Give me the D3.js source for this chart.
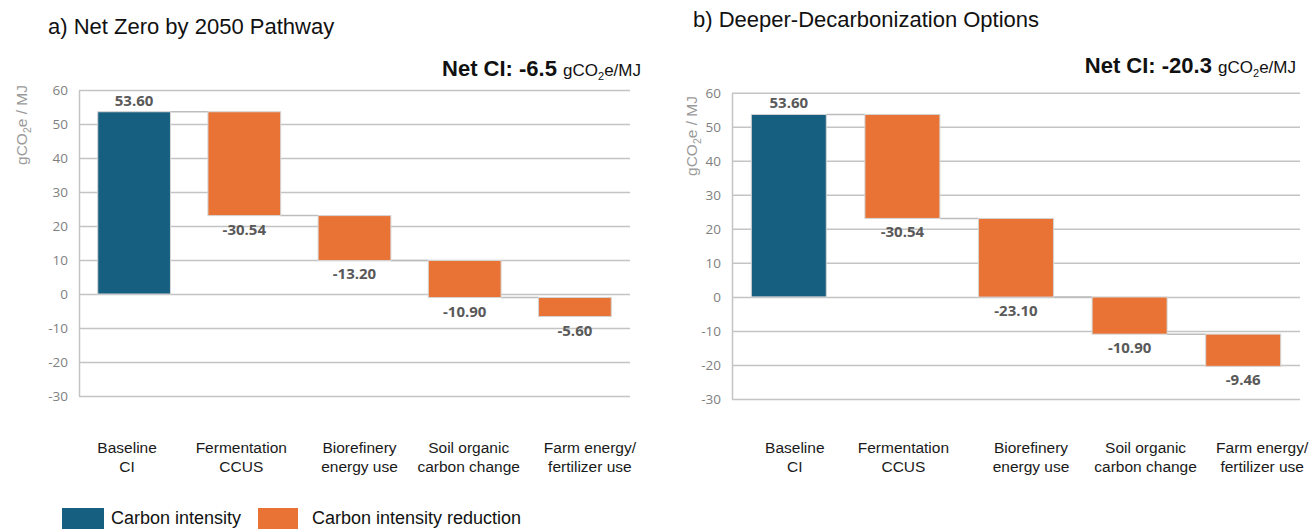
<!DOCTYPE html>
<html>
<head>
<meta charset="utf-8">
<script src="https://cdn.jsdelivr.net/npm/d3@7"></script>
<style>
  body { margin: 0; background: #fff; }
  svg { display: block; }
  .tick text { font-family: 'Open Sans', sans-serif; font-size: 13.5px; fill: #7f7f7f; }
</style>
</head>
<body>
<script>
// chart data
const categories = [
  ['Baseline', 'CI'],
  ['Fermentation', 'CCUS'],
  ['Biorefinery', 'energy use'],
  ['Soil organic', 'carbon change'],
  ['Farm energy/', 'fertilizer use']
];
const valuesA = [53.60, -30.54, -13.20, -10.90, -5.60];
const valuesB = [53.60, -30.54, -23.10, -10.90, -9.46];
const yTicks = [-30, -20, -10, 0, 10, 20, 30, 40, 50, 60];
const titles = ['a) Net Zero by 2050 Pathway', 'b) Deeper-Decarbonization Options'];
const netCI = ['-6.5', '-20.3'];
const legendItems = ['Carbon intensity', 'Carbon intensity reduction'];

const blue = '#175f80';
const orange = '#e87334';
const gridCol = '#c4c4c4';

const W = 1312, H = 529;
const svg = d3.select('body').append('svg').attr('width', W).attr('height', H);

// builds the running totals of a waterfall
const steps = vals => {
  let total = 0;
  return vals.map((v, i) => {
    const start = i === 0 ? 0 : total;
    total = start + v;
    return { i: i, v: v, start: start, end: total };
  });
};

function drawPanel(vals, p) {
  const g = svg.append('g');
  const x = d3.scaleBand().domain(d3.range(categories.length))
              .range([p.left, p.right]).paddingInner(0.34).paddingOuter(0.17);
  const y = d3.scaleLinear().domain([-30, 60]).range([p.bottom, p.top]);
  const data = steps(vals);

  // title
  svg.append('text')
     .attr('x', p.titleX).attr('y', p.titleY)
     .style('font-family', 'Liberation Sans, Arial, sans-serif')
     .style('font-size', '22px').style('fill', '#111')
     .text(p.title);

  // net CI
  const net = svg.append('text')
     .attr('x', p.right + p.netDx).attr('y', p.netY)
     .attr('text-anchor', 'end')
     .style('font-family', 'Liberation Sans, Arial, sans-serif')
     .style('fill', '#111');
  net.append('tspan').style('font-weight', 'bold').style('font-size', '22px').text('Net CI: ' + p.net + ' ');
  net.append('tspan').style('font-size', '17px').text('gCO');
  net.append('tspan').style('font-size', '11px').attr('dy', 4).text('2');
  net.append('tspan').style('font-size', '17px').attr('dy', -4).text('e/MJ');

  // gridlines
  g.append('g')
   .attr('transform', 'translate(' + p.left + ',0)')
   .call(d3.axisLeft(y).tickValues(yTicks).tickSize(-(p.right - p.left)).tickFormat(''))
   .call(s => s.select('.domain').remove())
   .call(s => s.selectAll('line').attr('stroke', gridCol).attr('stroke-width', 1.5));

  // tick labels
  g.append('g')
   .attr('transform', 'translate(' + p.left + ',0)')
   .call(d3.axisLeft(y).tickValues(yTicks).tickSize(0).tickPadding(11).tickFormat(d => String(d)))
   .call(s => s.select('.domain').attr('stroke', gridCol).attr('stroke-width', 1.5));

  // y axis title
  const yt = svg.append('text')
     .attr('transform', 'translate(' + p.ytX + ',' + p.ytY + ') rotate(-90)')
     .attr('text-anchor', 'middle')
     .style('font-family', 'Liberation Sans, Arial, sans-serif')
     .style('fill', '#9a9a9a');
  yt.append('tspan').style('font-size', '15.5px').text('gCO');
  yt.append('tspan').style('font-size', '10.5px').attr('dy', 4).text('2');
  yt.append('tspan').style('font-size', '15.5px').attr('dy', -4).text('e / MJ');

  // connectors
  g.selectAll('line.conn')
   .data(data.slice(0, -1))
   .enter().append('line')
   .attr('class', 'conn')
   .attr('x1', d => x(d.i) + x.bandwidth())
   .attr('x2', d => x(d.i + 1))
   .attr('y1', d => y(d.end))
   .attr('y2', d => y(d.end))
   .attr('stroke', '#bdbdbd').attr('stroke-width', 1.5);

  // bars
  g.selectAll('rect.bar')
   .data(data)
   .enter().append('rect')
   .attr('class', 'bar')
   .attr('x', d => x(d.i))
   .attr('width', x.bandwidth())
   .attr('y', d => y(Math.max(d.start, d.end)))
   .attr('height', d => Math.abs(y(d.start) - y(d.end)))
   .attr('fill', d => d.i === 0 ? blue : orange)
   .attr('stroke', '#d4d4d4').attr('stroke-width', 1);

  // value labels
  g.selectAll('text.val')
   .data(data)
   .enter().append('text')
   .attr('class', 'val')
   .attr('x', d => x(d.i) + x.bandwidth() / 2)
   .attr('y', d => d.v > 0 ? y(d.end) - 6 : y(Math.min(d.start, d.end)) + 19)
   .attr('text-anchor', 'middle')
   .style('font-family', 'Open Sans, sans-serif')
   .style('font-weight', 'bold').style('font-size', '15px').style('fill', '#595959')
   .text(d => d.v.toFixed(2));

  // category labels
  const cat = g.selectAll('text.cat')
   .data(categories)
   .enter().append('text')
   .attr('class', 'cat')
   .attr('x', (d, i) => x(i) + x.bandwidth() / 2 + p.catDx[i])
   .attr('y', 453)
   .attr('text-anchor', 'middle')
   .style('font-family', 'Liberation Sans, Arial, sans-serif')
   .style('font-size', '15.5px').style('fill', '#1a1a1a');
  cat.append('tspan').text(d => d[0]);
  cat.append('tspan')
     .attr('x', function () { return d3.select(this.parentNode).attr('x'); })
     .attr('dy', 19).text(d => d[1]);
}

drawPanel(valuesA, {
  left: 79, right: 630, top: 90, bottom: 396,
  title: titles[0], titleX: 48, titleY: 34,
  net: netCI[0], netDx: 11, netY: 76,
  ytX: 27, ytY: 125,
  catDx: [-7, -3, 5, 4, 15]
});
drawPanel(valuesB, {
  left: 732, right: 1300, top: 92.7, bottom: 399,
  title: titles[1], titleX: 693, titleY: 27,
  net: netCI[1], netDx: -4, netY: 73,
  ytX: 697, ytY: 136,
  catDx: [6, 1, 15, 16, 19]
});

// legend
const legend = svg.append('g');
const legX = [62, 258];
const legW = [42, 40];
const legTx = [111, 312];
legendItems.forEach((t, i) => {
  legend.append('rect')
        .attr('x', legX[i]).attr('y', 508).attr('width', legW[i]).attr('height', 24)
        .attr('fill', i === 0 ? blue : orange);
  legend.append('text')
        .attr('x', legTx[i]).attr('y', 524)
        .style('font-family', 'Liberation Sans, Arial, sans-serif')
        .style('font-size', '18px').style('fill', '#111')
        .text(t);
});
</script>
</body>
</html>
